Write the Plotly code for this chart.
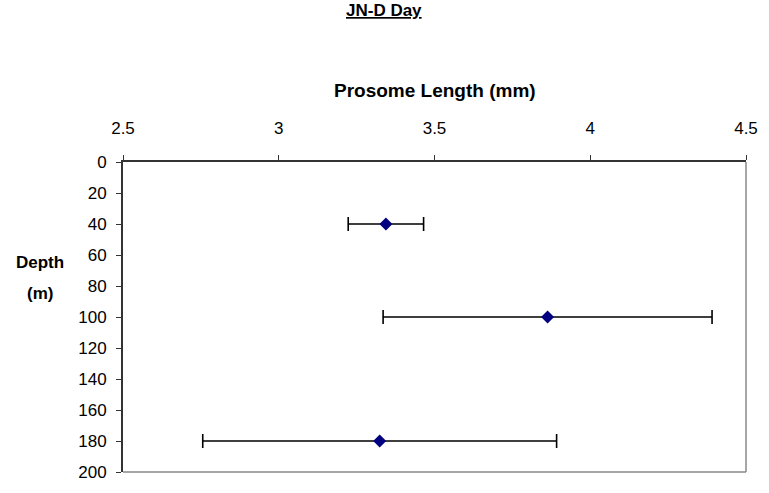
import plotly.graph_objects as go

depth = [40, 100, 180]
length_mm = [3.344, 3.863, 3.324]
length_err = [0.121, 0.528, 0.568]

x_ticks = [2.5, 3, 3.5, 4, 4.5]
x_labels = ["2.5", "3", "3.5", "4", "4.5"]
y_ticks = list(range(0, 201, 20))

fig = go.Figure()
fig.add_trace(go.Scatter(
    x=length_mm, y=depth, mode="markers",
    marker=dict(symbol="diamond", size=10, color="#000080"),
    error_x=dict(type="data", array=length_err, visible=True,
                 color="black", thickness=1.6, width=7),
    showlegend=False,
))

fig.update_layout(
    width=769, height=493,
    margin=dict(l=123, r=18, t=162, b=11),
    plot_bgcolor="white", paper_bgcolor="white",
    font=dict(family="Liberation Sans, Arial, sans-serif", size=17, color="black"),
    xaxis=dict(side="top", range=[2.5, 4.5], tickvals=x_ticks, ticktext=x_labels,
               showgrid=False, zeroline=False, showline=True, linecolor="#333333",
               linewidth=1.5, ticks="outside", ticklen=5, tickcolor="#333333",
               tickfont=dict(size=17), ticklabelstandoff=14),
    yaxis=dict(range=[200, 0], tickvals=y_ticks, showgrid=False, zeroline=False,
               showline=True, linecolor="#333333", linewidth=2, ticks="outside",
               ticklen=5, tickcolor="#333333", tickfont=dict(size=17),
               ticklabelstandoff=6),
    shapes=[
        dict(type="line", xref="paper", yref="paper", x0=1, x1=1, y0=0, y1=1,
             line=dict(color="#888888", width=1.5)),
        dict(type="line", xref="paper", yref="paper", x0=0, x1=1, y0=0, y1=0,
             line=dict(color="#888888", width=1.5)),
    ],
    annotations=[
        dict(text="<b><u>JN-D Day</u></b>", xref="paper", yref="paper",
             x=0, y=0, xanchor="center", yanchor="middle",
             xshift=384 - 123, yshift=482 - 20, showarrow=False, font=dict(size=17)),
        dict(text="<b>Prosome Length (mm)</b>", xref="paper", yref="paper",
             x=0.5, y=1, xanchor="center", yanchor="middle",
             yshift=162 - 90, showarrow=False, font=dict(size=19)),
        dict(text="<b>Depth</b>", xref="paper", yref="paper",
             x=0, y=0, xanchor="center", yanchor="middle",
             xshift=40 - 123, yshift=482 - 272, showarrow=False,
             font=dict(size=17)),
        dict(text="<b>(m)</b>", xref="paper", yref="paper",
             x=0, y=0, xanchor="center", yanchor="middle",
             xshift=40 - 123, yshift=482 - 303, showarrow=False,
             font=dict(size=17)),
    ],
)

fig.write_html("out.html")
